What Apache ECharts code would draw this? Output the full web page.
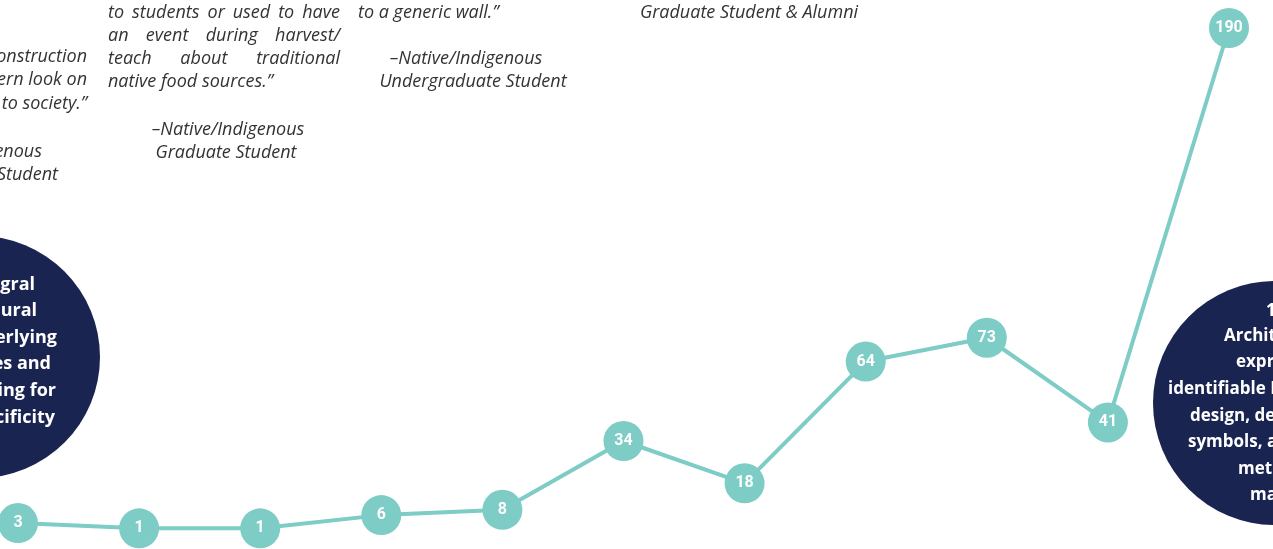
<!DOCTYPE html>
<html>
<head>
<meta charset="utf-8">
<script src="https://cdn.jsdelivr.net/npm/echarts@6/dist/echarts.min.js"></script>
<style>
  html, body { margin: 0; padding: 0; background: #fff; }
  #chart { width: 1273px; height: 549px; }
</style>
</head>
<body>
<div id="chart"></div>
<script>
// criteria number -> how many times it was mentioned
const criteria = ['1', '2', '3', '4', '5', '6', '7', '8', '9', '10', '11'];
const counts = [3, 1, 1, 6, 8, 34, 18, 64, 73, 41, 190];

const teal = '#7dccc5';
const navy = '#1a2450';
const quoteColor = '#333';
const quoteSize = 18;
const quoteFamily = '"Open Sans", "DejaVu Sans", sans-serif';

const measureCtx = document.createElement('canvas').getContext('2d');

function quoteText(text, x, y, align) {
  return {
    type: 'text',
    x,
    y,
    silent: true,
    style: {
      text,
      fill: quoteColor,
      fontSize: quoteSize,
      fontStyle: 'italic',
      fontFamily: quoteFamily,
      textAlign: align || 'left',
      textVerticalAlign: 'middle',
    },
  };
}

// spreads the words of a line between left and right, like a justified paragraph
function justified(line, left, right, y) {
  const words = line.split(' ');
  measureCtx.font = `italic ${quoteSize}px ${quoteFamily}`;
  const widths = words.map((w) => measureCtx.measureText(w).width);
  const total = widths.reduce((a, b) => a + b, 0);
  const gap = words.length > 1 ? (right - left - total) / (words.length - 1) : 0;
  let x = left;
  return words.map((w, i) => {
    const el = quoteText(w, x, y);
    x += widths[i] + gap;
    return el;
  });
}

function circleText(text, x, y, align, size) {
  return {
    type: 'text',
    x,
    y,
    silent: true,
    z: 10,
    style: {
      text,
      fill: '#fff',
      fontSize: size,
      fontWeight: 'bold',
      fontFamily: '"Open Sans", sans-serif',
      textAlign: align,
      textVerticalAlign: 'middle',
    },
  };
}

const leftCircleLines = [
  ['Integral', 35, 285],
  ['Cultural', 37, 311],
  ['and underlying', 57, 338],
  ['values and', 51, 364],
  ['planning for', 56, 391],
  ['specificity', 55, 418],
];
const rightCircleLines = [
  ['11.', 1266, 311],
  ['Architectural', 1224, 336],
  ['expression of', 1236, 362],
  ['identifiable Indigenous', 1168, 389],
  ['design, details,', 1190, 416],
  ['symbols, and', 1188, 442],
  ['methods and', 1238, 469],
  ['materials', 1250, 495],
];

const graphics = [
  // first quote, mostly cut off on the left
  quoteText('of a traditional construction', 87, 57, 'right'),
  quoteText('rather than a modern look on', 87, 80, 'right'),
  quoteText('how we relate to society.\u201d', 87, 104, 'right'),
  quoteText('\u2013Native/Indigenous', 42, 152, 'right'),
  quoteText('Undergraduate Student', 58, 175, 'right'),
  // second quote
  ...justified('to students or used to have', 108, 340, 13),
  ...justified('an event during harvest/', 108, 340, 36),
  ...justified('teach about traditional', 108, 340, 59),
  quoteText('native food sources.\u201d', 108, 82),
  quoteText('\u2013Native/Indigenous', 228, 130, 'center'),
  quoteText('Graduate Student', 226, 153, 'center'),
  // third quote
  ...justified('instead of just hanging artwork', 358, 590, -10),
  quoteText('to a generic wall.\u201d', 358, 13),
  quoteText('\u2013Native/Indigenous', 466, 59, 'center'),
  quoteText('Undergraduate Student', 473, 82, 'center'),
  // fourth and fifth quotes, cut off at the top
  quoteText('\u2013Native/Indigenous', 749, -10, 'center'),
  quoteText('Graduate Student & Alumni', 749, 13, 'center'),
  quoteText('Indigenous Graduate Student', 1030, -9, 'center'),
  // dark circles
  {
    type: 'circle',
    silent: true,
    z: 5,
    shape: { cx: -21, cy: 357, r: 121 },
    style: { fill: navy },
  },
  {
    type: 'circle',
    silent: true,
    z: 5,
    shape: { cx: 1275, cy: 403, r: 122 },
    style: { fill: navy },
  },
  ...leftCircleLines.map(([t, x, y]) => circleText(t, x, y, 'right', 18)),
  ...rightCircleLines.map(([t, x, y]) => circleText(t, x, y, 'left', 17)),
];

const chart = echarts.init(document.getElementById('chart'));
chart.setOption({
  animation: false,
  backgroundColor: '#fff',
  grid: { left: 18, right: 44, top: 28, bottom: 18 },
  xAxis: {
    type: 'category',
    data: criteria,
    boundaryGap: false,
    show: false,
  },
  yAxis: {
    type: 'value',
    min: 0,
    max: 190,
    show: false,
  },
  graphic: graphics,
  series: [
    {
      type: 'line',
      data: counts,
      z: 20,
      symbol: 'circle',
      symbolSize: 40,
      itemStyle: { color: teal },
      lineStyle: { color: teal, width: 4 },
      label: {
        show: true,
        position: 'inside',
        color: '#fff',
        fontSize: 16,
        fontWeight: 'bold',
        fontFamily: 'Roboto, sans-serif',
      },
    },
  ],
});
</script>
</body>
</html>
